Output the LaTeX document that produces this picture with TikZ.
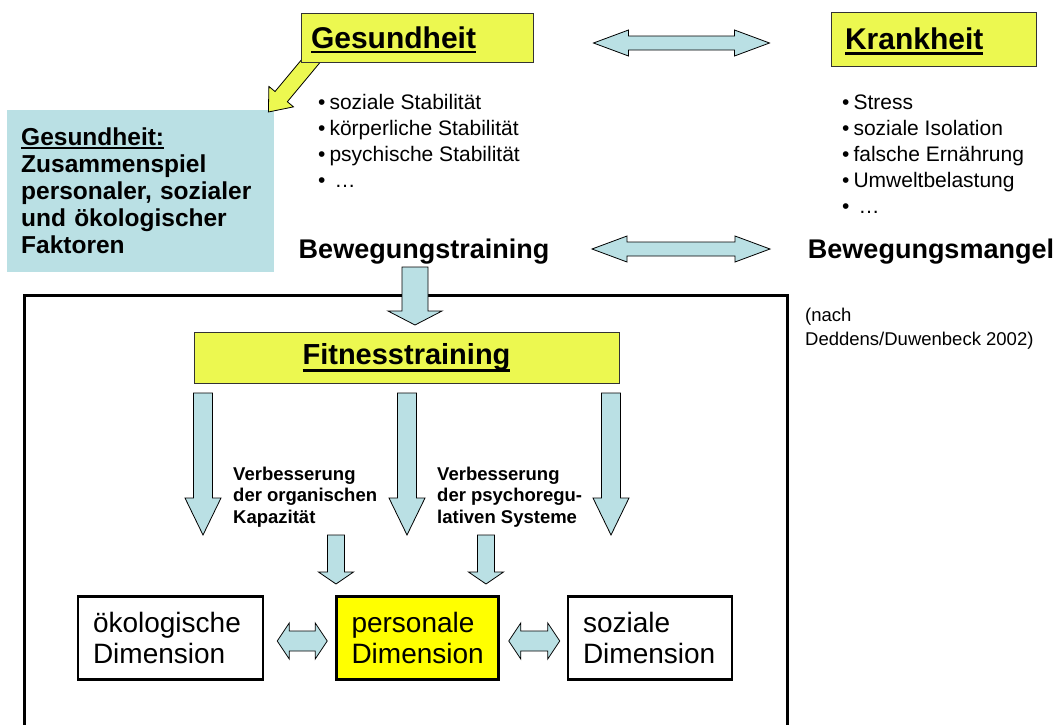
\documentclass[tikz,border=0pt]{standalone}
\usepackage{fontspec}
\setmainfont{Liberation Sans}
\usetikzlibrary{calc,positioning}

\definecolor{titelgelb}{RGB}{236,248,80}
\definecolor{kraeftiggelb}{RGB}{255,255,0}
\definecolor{hellblau}{RGB}{186,224,228}

\newcommand{\fs}[2]{\fontsize{#1}{#2}\selectfont}
% Unterstreichung: Text, Abstand unter Grundlinie, Dicke
\newcommand{\strich}[3]{\setbox0\hbox{#1}\rlap{\smash{\rule[-#2]{\wd0}{#3}}}\box0}
\newcommand{\pkt}{•\hspace{4pt}}
% Blockpfeil: Stil, Fuss, Spitze, halbe Schaftbreite, halbe Kopfbreite, Kopflaenge
\newcommand{\blockpfeil}[6][pfeil]{%
  \coordinate (bp-h) at ($(#3)!#6!(#2)$);
  \draw[#1] ($(#2)!#4!90:(#3)$) -- ($(bp-h)!#4!-90:(#2)$) -- ($(bp-h)!#5!-90:(#2)$) -- (#3)
    -- ($(bp-h)!#5!90:(#2)$) -- ($(bp-h)!#4!90:(#2)$) -- ($(#2)!#4!-90:(#3)$) -- cycle;
}
% Doppelpfeil: Stil, Ende 1, Ende 2, halbe Schaftbreite, halbe Kopfbreite, Kopflaenge
\newcommand{\doppelpfeil}[6][pfeil]{%
  \coordinate (dp-a) at ($(#2)!#6!(#3)$);
  \coordinate (dp-b) at ($(#3)!#6!(#2)$);
  \draw[#1] (#2) -- ($(dp-a)!#5!90:(#3)$) -- ($(dp-a)!#4!90:(#3)$) -- ($(dp-b)!#4!-90:(#2)$)
    -- ($(dp-b)!#5!-90:(#2)$) -- (#3) -- ($(dp-b)!#5!90:(#2)$) -- ($(dp-b)!#4!90:(#2)$)
    -- ($(dp-a)!#4!-90:(#3)$) -- ($(dp-a)!#5!-90:(#3)$) -- cycle;
}

\tikzset{
  rahmen/.style={draw=black, line width=3pt},
  titel/.style={draw=black!80, line width=1pt, fill=titelgelb, inner ysep=0pt, align=left,
    font=\bfseries\fs{30}{36}},
  fitbox/.style={draw=black!80, line width=1pt, fill=titelgelb, inner sep=0pt,
    minimum width=425pt, minimum height=51pt, font=\bfseries\fs{29}{34}},
  infobox/.style={fill=hellblau, anchor=north west, minimum width=267pt, minimum height=162pt,
    text width=239pt, inner xsep=14pt, inner ysep=0pt, align=left, font=\bfseries\fs{24.5}{27}},
  liste/.style={anchor=base west, align=left, inner sep=0pt, font=\fs{21}{26}},
  fett/.style={anchor=base, inner sep=0pt, font=\bfseries\fs{27}{32}},
  quelle/.style={anchor=base west, align=left, inner sep=0pt, font=\fs{18.5}{24}},
  verb/.style={anchor=base west, align=left, inner sep=0pt, font=\bfseries\fs{18.5}{21.5}},
  dimbox/.style={draw=black, line width=2.5pt, text width=#1, inner xsep=15pt, inner ysep=0pt,
    minimum height=83pt, align=left, font=\fs{28}{31}},
  pfeil/.style={draw=black, line width=0.8pt, fill=hellblau},
  gelbpfeil/.style={draw=black, line width=0.8pt, fill=titelgelb}
}

\begin{document}
\begin{tikzpicture}[x=1pt,y=-1pt]
  \useasboundingbox (0,0) rectangle (1058,724);

  % Rahmen um den unteren Teil
  \draw[rahmen] (24,728) |- (787,295) -- (787,728);

  % Infokasten links
  \node[infobox] (info) at (7,110)
    {\strich{Gesundheit:}{3pt}{1.8pt}\\Zusammenspiel\\personaler, sozialer\\und ökologischer\\Faktoren};

  % gelber Pfeil von Gesundheit zum Infokasten
  \coordinate (gp-fuss) at (320,50);
  \coordinate (gp-spitze) at ($(info.north east)+(-6,2)$);
  \blockpfeil[gelbpfeil]{gp-fuss}{gp-spitze}{8pt}{16pt}{20pt}

  % Titel oben
  \node[titel, text width=212pt, inner xsep=10pt, minimum height=49pt] (ges) at (417,37.5)
    {\strich{Gesundheit}{5pt}{2.5pt}};
  \node[titel, text width=177pt, inner xsep=14pt, minimum height=54pt] (krank) at (933.5,39)
    {\strich{Krankheit}{5pt}{2.5pt}};

  % Aufzaehlungen (Anker an der letzten Zeile)
  \node[liste] (gesliste) at (318,187)
    {\pkt soziale Stabilität\\\pkt körperliche Stabilität\\\pkt psychische Stabilität\\•\hspace{9pt}…};
  \node[liste] (krankliste) at (842,213)
    {\pkt Stress\\\pkt soziale Isolation\\\pkt falsche Ernährung\\\pkt Umweltbelastung\\•\hspace{9pt}…};

  \node[fett] (bewtr) at (424,258) {Bewegungstraining};
  \node[fett] (bewmangel) at (931,258) {Bewegungsmangel};
  \node[quelle] (quelle) at (805,345) {(nach\\Deddens/Duwenbeck 2002)};

  % Doppelpfeile oben
  \coordinate (ges-r) at ($(ges.east)+(60,5.5)$);
  \coordinate (krank-l) at ($(krank.west)+(-61,4)$);
  \doppelpfeil{ges-r}{krank-l}{7pt}{13pt}{35pt}
  \coordinate (bt-r) at (592,249);
  \coordinate (bm-l) at (770,249);
  \doppelpfeil{bt-r}{bm-l}{7pt}{13pt}{35pt}

  % Fitnesstraining
  \node[fitbox] (fit) at (406.5,357.5) {\strich{Fitnesstraining}{7pt}{2.5pt}};
  \coordinate (bt-fuss) at (415,267);
  \coordinate (fit-kopf) at (415,325);
  \blockpfeil{bt-fuss}{fit-kopf}{13pt}{27pt}{14pt}

  \foreach \x/\n in {203/a,407/b,611/c}{
    \coordinate (lang-\n) at (\x,393);
    \coordinate (lang-\n-spitze) at (\x,535);
    \blockpfeil{lang-\n}{lang-\n-spitze}{9.5pt}{18pt}{37pt}
  }

  \node[verb] (verb1) at (233,523) {Verbesserung\\der organischen\\Kapazität};
  \node[verb] (verb2) at (437,523) {Verbesserung\\der psychoregu-\\lativen Systeme};

  % Dimensionen
  \node[dimbox=155pt] (oeko) at (170.5,638) {ökologische\\Dimension};
  \node[dimbox=132pt, fill=kraeftiggelb] (pers) at (417.5,638) {personale\\Dimension};
  \node[dimbox=134pt] (sozial) at (650,638) {soziale\\Dimension};

  \foreach \x/\n in {336/a,486/b}{
    \coordinate (kurz-\n) at (\x,535);
    \coordinate (kurz-\n-spitze) at (\x,584);
    \blockpfeil{kurz-\n}{kurz-\n-spitze}{8.5pt}{17.5pt}{12pt}
  }

  \coordinate (oeko-r) at ($(oeko.east)+(13,3)$);
  \coordinate (pers-l) at ($(pers.west)+(-8,3)$);
  \doppelpfeil{oeko-r}{pers-l}{10pt}{18pt}{12pt}
  \coordinate (pers-r) at ($(pers.east)+(9,3)$);
  \coordinate (sozial-l) at ($(sozial.west)+(-7,3)$);
  \doppelpfeil{pers-r}{sozial-l}{10pt}{18pt}{12pt}
\end{tikzpicture}
\end{document}
